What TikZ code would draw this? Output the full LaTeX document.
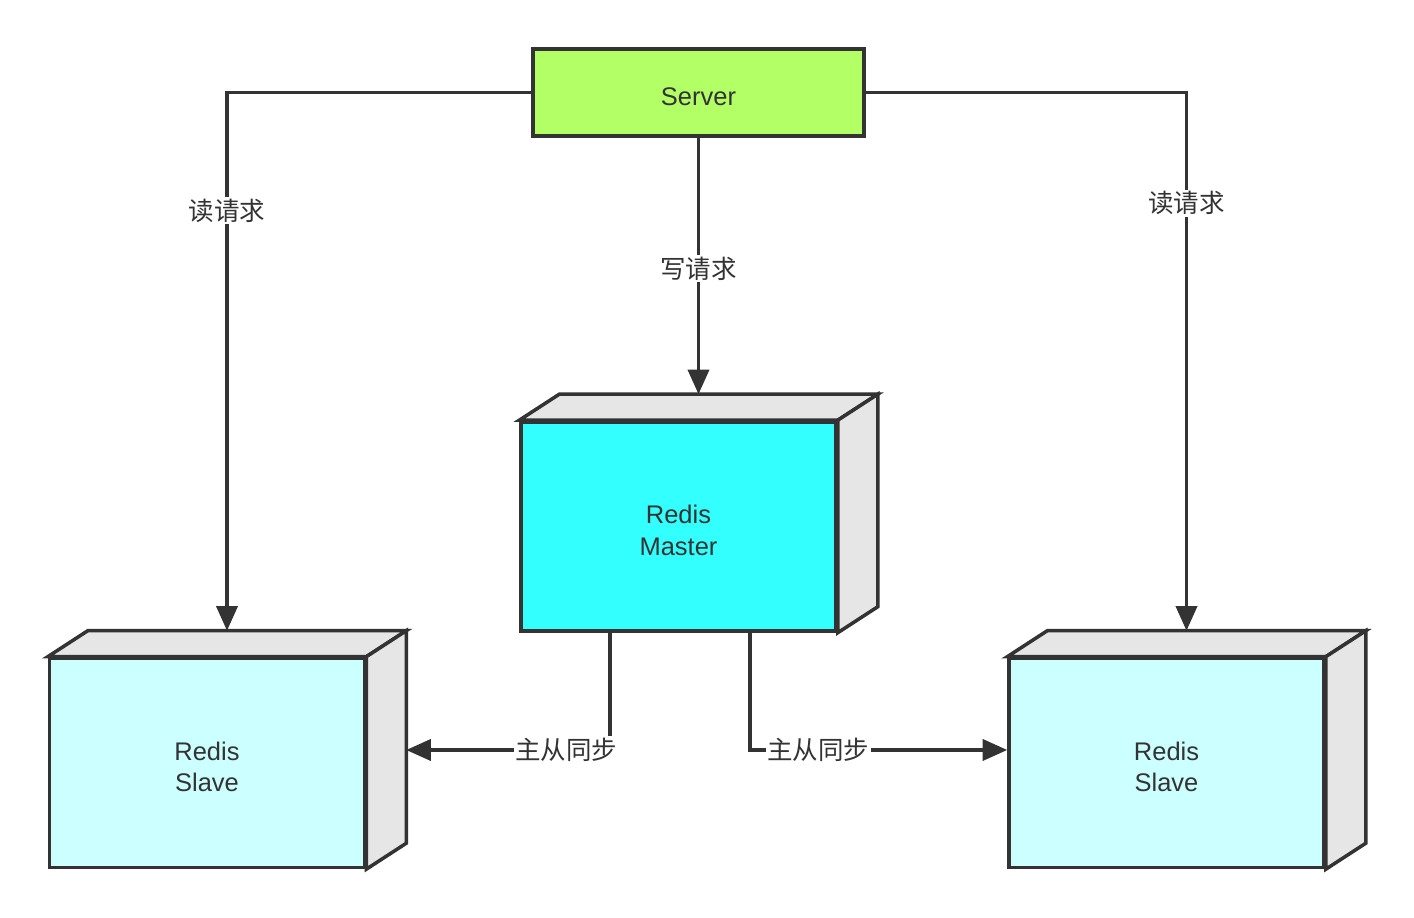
\documentclass[tikz,border=0pt]{standalone}
\usepackage{fontspec}
\setmainfont{Liberation Sans}
\newfontfamily\cjk{Noto Sans CJK SC}
\usetikzlibrary{arrows.meta,calc}
\definecolor{ink}{HTML}{333333}
\definecolor{servergreen}{HTML}{B3FF66}
\definecolor{mastercyan}{HTML}{33FFFF}
\definecolor{slavecyan}{HTML}{CCFFFF}
\definecolor{facegray}{HTML}{E6E6E6}
\tikzset{
  box/.style={draw=ink, line width=2pt, minimum width=6.3cm, minimum height=4.18cm, align=center, text height=33pt},
  face/.style={draw=ink, fill=facegray, line width=2pt},
  link/.style={draw=ink, line width=2pt, -{Triangle[length=14pt,width=12pt]}},
  lbl/.style={fill=white, inner sep=1pt, font=\cjk\fontsize{14.5}{18}\selectfont}
}
\begin{document}
\begin{tikzpicture}[font=\fontsize{14.5}{18}\selectfont, text=ink]
  \useasboundingbox (0,0) rectangle (28.28,18.36);

  \node[draw=ink, line width=2pt, fill=servergreen, minimum width=6.62cm, minimum height=1.74cm, text height=15pt] (server) at (13.97,16.51) {Server};

  \node[box, fill=mastercyan] (master) at (13.57,7.83) {Redis\\Master};
  \node[box, fill=slavecyan] (slaveL) at (4.14,3.1) {Redis\\Slave};
  \node[box, fill=slavecyan] (slaveR) at (23.33,3.1) {Redis\\Slave};

  % top and side of each block
  \foreach \n in {master,slaveL,slaveR} {
    \draw[face] (\n.north west) -- ++(0.8,0.52) -- ($(\n.north east)+(0.8,0.52)$) -- (\n.north east) -- cycle;
    \draw[face] (\n.north east) -- ++(0.8,0.52) -- ($(\n.south east)+(0.8,0.52)$) -- (\n.south east) -- cycle;
  }

  % requests
  \draw[link] (server.west) -| ($(slaveL.north)+(0.4,0.52)$) node[lbl, pos=0.61] (readL) {读请求};
  \draw[link] (server.east) -| ($(slaveR.north)+(0.4,0.52)$) node[lbl, pos=0.603] (readR) {读请求};
  \draw[link] (server.south) -- ($(master.north)+(0.4,0.52)$) node[lbl, pos=0.51] (write) {写请求};

  % replication
  \draw[link] ($(master.south)+(-1.37,0)$) |- ($(slaveL.east)+(0.8,0.26)$) node[lbl, pos=0.607] (syncL) {主从同步};
  \draw[link] ($(master.south)+(1.43,0)$) |- ($(slaveR.west)+(0,0.26)$) node[lbl, pos=0.633] (syncR) {主从同步};
\end{tikzpicture}
\end{document}
